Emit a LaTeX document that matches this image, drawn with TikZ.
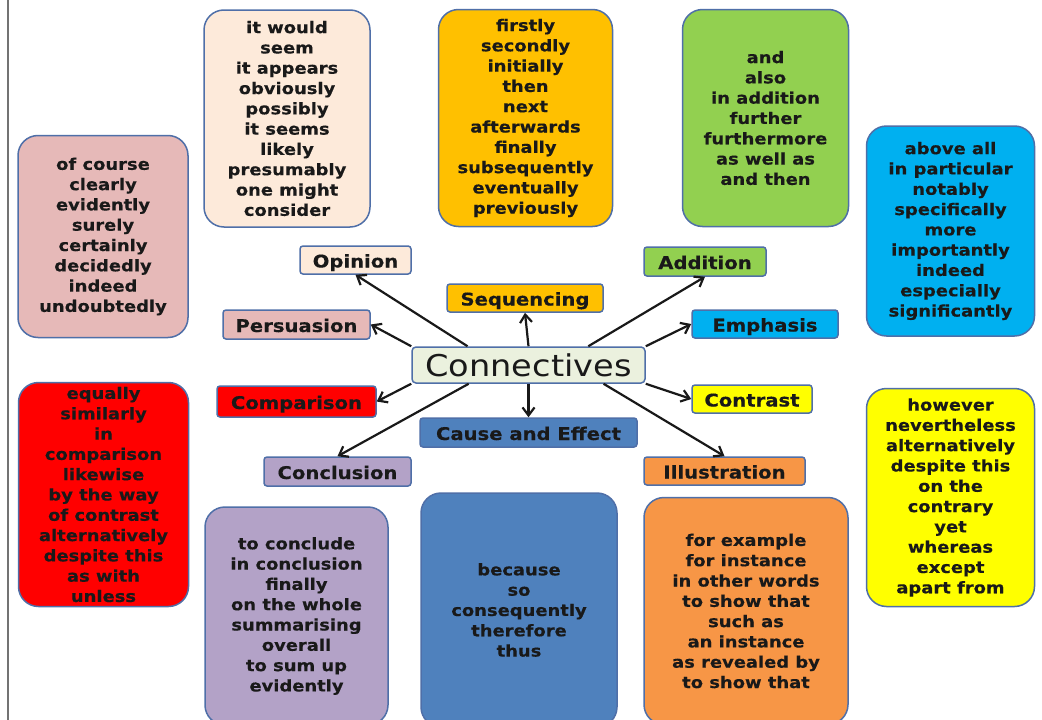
\documentclass[tikz,border=0pt]{standalone}
\usepackage{fontspec}
\usepackage{tikz}
\usetikzlibrary{calc,arrows.meta}
\newfontfamily\boxfont[FakeStretch=1.12, BoldFeatures={FakeBold=0.35}]{DejaVu Sans}
\definecolor{edgeblue}{HTML}{4F6FA8}
\definecolor{opinioncol}{HTML}{FDEADA}
\definecolor{persuasioncol}{HTML}{E6B9B8}
\definecolor{sequencecol}{HTML}{FFC000}
\definecolor{additioncol}{HTML}{92D050}
\definecolor{emphasiscol}{HTML}{00B0F0}
\definecolor{conncol}{HTML}{EBF1DE}
\definecolor{comparisoncol}{HTML}{FF0000}
\definecolor{contrastcol}{HTML}{FFFF00}
\definecolor{causecol}{HTML}{4F81BD}
\definecolor{conclusioncol}{HTML}{B3A2C7}
\definecolor{illustrationcol}{HTML}{F79646}

\begin{document}
\begin{tikzpicture}[x=1pt, y=-1pt]
	\tikzstyle{wordbox} =[draw=edgeblue, line width=1.5pt, rounded corners=20pt, inner sep=0pt, align=center, text=black!90, font=\boxfont\bfseries\fontsize{16}{20.3}\selectfont];
	\tikzstyle{labelbox} =[draw=edgeblue, line width=1.5pt, rounded corners=3pt, inner sep=0pt, text height=15pt, text depth=0pt, text=black!90, font=\boxfont\bfseries\fontsize{17.5}{20}\selectfont];
	\tikzstyle{conarrow} =[-{Straight Barb[length=8pt, width=12pt]}, line width=2.2pt, black!90];
	\useasboundingbox (0,0) rectangle (1042,720);
	\clip (0,0) rectangle (1042,720);
	\fill [white] (0,0) rectangle (1042,720);
	\draw [black!55, line width=2pt] (8,0) -- (8,720);

	% word lists
	\node[wordbox, fill=opinioncol, minimum width=166pt, minimum height=217pt] (opinionbox) at (287,118.5) {it would\\seem\\it appears\\obviously\\possibly\\it seems\\likely\\presumably\\one might\\consider};
	\node[wordbox, fill=sequencecol, minimum width=174pt, minimum height=217pt] (sequencebox) at (525.5,118) {firstly\\secondly\\initially\\then\\next\\afterwards\\finally\\subsequently\\eventually\\previously};
	\node[wordbox, fill=additioncol, minimum width=166pt, minimum height=217pt] (additionbox) at (765.5,118) {and\\also\\in addition\\further\\furthermore\\as well as\\and then};
	\node[wordbox, fill=emphasiscol, minimum width=168pt, minimum height=210pt] (emphasisbox) at (950.5,231) {above all\\in particular\\notably\\specifically\\more\\importantly\\indeed\\especially\\significantly};
	\node[wordbox, fill=persuasioncol, minimum width=170pt, minimum height=202pt] (persuasionbox) at (103,236.5) {of course\\clearly\\evidently\\surely\\certainly\\decidedly\\indeed\\undoubtedly};
	\node[wordbox, fill=comparisoncol, minimum width=170pt, minimum height=224pt] (comparisonbox) at (103.5,494.5) {equally\\similarly\\in\\comparison\\likewise\\by the way\\of contrast\\alternatively\\despite this\\as with\\unless};
	\node[wordbox, fill=contrastcol, minimum width=168pt, minimum height=218pt] (contrastbox) at (950.5,497.5) {however\\nevertheless\\alternatively\\despite this\\on the\\contrary\\yet\\whereas\\except\\apart from};
	\node[wordbox, fill=conclusioncol, minimum width=183pt, minimum height=218pt] (conclusionbox) at (296.5,616) {to conclude\\in conclusion\\finally\\on the whole\\summarising\\overall\\to sum up\\evidently};
	\node[wordbox, fill=causecol, minimum width=196pt, minimum height=234pt] (causebox) at (519,610) {because\\so\\consequently\\therefore\\thus};
	\node[wordbox, fill=illustrationcol, minimum width=204pt, minimum height=227pt] (illustrationbox) at (746,611) {for example\\for instance\\in other words\\to show that\\such as\\an instance\\as revealed by\\to show that};

	% labels
	\node[labelbox, fill=conncol, rounded corners=4pt, minimum width=233pt, minimum height=36pt, text height=23pt, font=\boxfont\fontsize{30}{32}\selectfont] (conn) at (528.5,365) {Connectives};
	\node[labelbox, fill=opinioncol, minimum width=111pt, minimum height=28pt] (lopinion) at (355.5,260) {Opinion};
	\node[labelbox, fill=sequencecol, minimum width=156pt, minimum height=28pt] (lsequencing) at (525,298) {Sequencing};
	\node[labelbox, fill=persuasioncol, minimum width=147pt, minimum height=29pt] (lpersuasion) at (296.5,324.5) {Persuasion};
	\node[labelbox, fill=additioncol, minimum width=122pt, minimum height=29pt] (laddition) at (705,261.5) {Addition};
	\node[labelbox, fill=emphasiscol, minimum width=146pt, minimum height=28pt] (lemphasis) at (765,324) {Emphasis};
	\node[labelbox, fill=comparisoncol, minimum width=159pt, minimum height=31pt] (lcomparison) at (296.5,401.5) {Comparison};
	\node[labelbox, fill=contrastcol, minimum width=120pt, minimum height=28pt] (lcontrast) at (752,399) {Contrast};
	\node[labelbox, fill=causecol, minimum width=217pt, minimum height=29pt] (lcause) at (528.5,432.5) {Cause and Effect};
	\node[labelbox, fill=conclusioncol, minimum width=147pt, minimum height=29pt] (lconclusion) at (337.5,471.5) {Conclusion};
	\node[labelbox, fill=illustrationcol, minimum width=161pt, minimum height=28pt] (lillustration) at (724.5,471) {Illustration};

	% arrows
	\draw[conarrow] ($(conn.north west)!0.24!(conn.north east)$) -- (lopinion.south);
	\draw[conarrow] (conn.north west) -- (lpersuasion.east);
	\draw[conarrow] (conn.north) -- (lsequencing.south);
	\draw[conarrow] ($(conn.north west)!0.755!(conn.north east)$) -- (laddition.south);
	\draw[conarrow] (conn.north east) -- (lemphasis.west);
	\draw[conarrow] (conn.south east) -- (lcontrast.west);
	\draw[conarrow] ($(conn.south west)!0.82!(conn.south east)$) -- (lillustration.north);
	\draw[conarrow] (conn.south) -- (lcause.north);
	\draw[conarrow] ($(conn.south west)!0.245!(conn.south east)$) -- (lconclusion.north);
	\draw[conarrow] (conn.south west) -- (lcomparison.east);
\end{tikzpicture}
\end{document}
